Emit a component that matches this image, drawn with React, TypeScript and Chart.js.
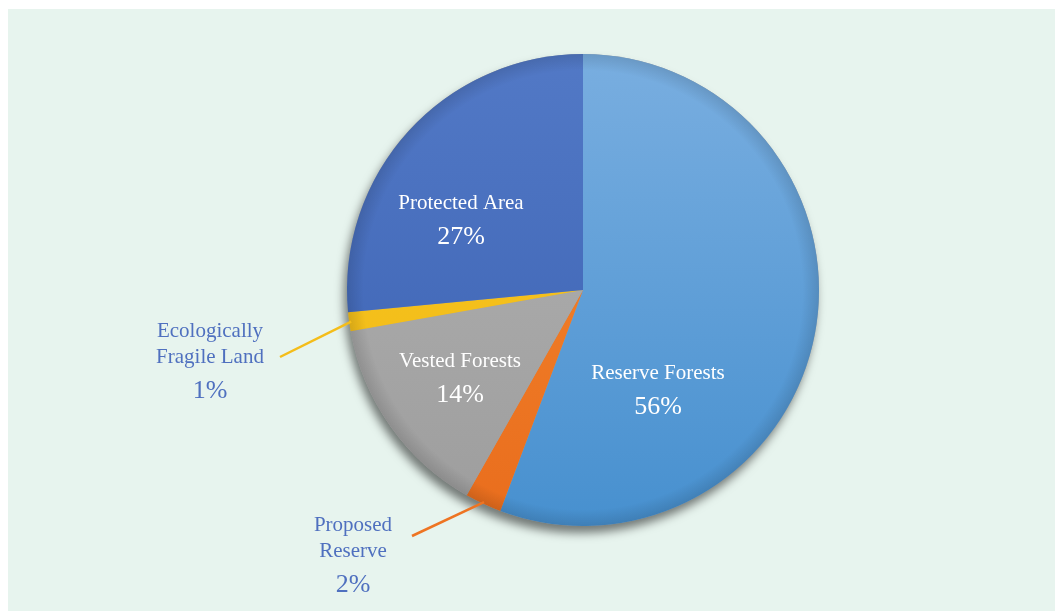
import React, { useEffect, useRef } from "react";
import { Chart, registerables } from "chart.js";

Chart.register(...registerables);

// ---- data ----
const categories = [
  "Reserve Forests",
  "Proposed Reserve",
  "Vested Forests",
  "Ecologically Fragile Land",
  "Protected Area",
];
const shares = [55.7, 2.5, 14.0, 1.3, 26.5];
const percentLabels = ["56%", "2%", "14%", "1%", "27%"];
const nameLines = [
  ["Reserve Forests"],
  ["Proposed", "Reserve"],
  ["Vested Forests"],
  ["Ecologically", "Fragile Land"],
  ["Protected Area"],
];

// ---- styles ----
const sliceColors: [string, string][] = [
  ["#79aee0", "#4790cf"],
  ["#f58a30", "#e96d1d"],
  ["#b3b3b3", "#9d9d9d"],
  ["#f9c824", "#f0b813"],
  ["#5279c6", "#3a60b1"],
];
const leaderColors = ["", "#ee7422", "", "#f4bd1a", ""];

// label anchors relative to pie centre (px): x centre, first baseline; optional leader start
const labelPlacement = [
  { dx: 75, dy: 89, inside: true },
  { dx: -230, dy: 241, inside: false, lx: -171, ly: 246 },
  { dx: -123, dy: 77, inside: true },
  { dx: -373, dy: 47, inside: false, lx: -303, ly: 67 },
  { dx: -122, dy: -81, inside: true },
];

const PIE_RADIUS = 236;
const FONT = '"Liberation Serif", "Times New Roman", serif';

const shadowPlugin = {
  id: "pieShadow",
  beforeDatasetsDraw(chart: any) {
    const arc = chart.getDatasetMeta(0).data[0];
    if (!arc || !isFinite(arc.x)) return;
    const { x, y, outerRadius } = arc;
    const ctx = chart.ctx;
    ctx.save();
    ctx.beginPath();
    ctx.arc(x, y, outerRadius, 0, Math.PI * 2);
    ctx.fillStyle = "#a0a0a0";
    ctx.shadowColor = "rgba(0,0,0,0.5)";
    ctx.shadowBlur = 10;
    ctx.shadowOffsetX = -3;
    ctx.shadowOffsetY = 7;
    ctx.fill();
    ctx.restore();
  },
  afterDatasetsDraw(chart: any) {
    const arc = chart.getDatasetMeta(0).data[0];
    if (!arc || !isFinite(arc.x)) return;
    const { x, y, outerRadius } = arc;
    const ctx = chart.ctx;
    ctx.save();
    const g = ctx.createRadialGradient(x, y, outerRadius * 0.93, x, y, outerRadius);
    g.addColorStop(0, "rgba(0,0,0,0)");
    g.addColorStop(1, "rgba(0,0,0,0.12)");
    ctx.beginPath();
    ctx.arc(x, y, outerRadius, 0, Math.PI * 2);
    ctx.fillStyle = g;
    ctx.fill();
    ctx.restore();
  },
};

const labelPlugin = {
  id: "sliceLabels",
  afterDatasetsDraw(chart: any) {
    const meta = chart.getDatasetMeta(0);
    const ctx = chart.ctx;
    ctx.save();
    meta.data.forEach((arc: any, i: number) => {
      const p = labelPlacement[i];
      const cx = arc.x;
      const cy = arc.y;
      const color = p.inside ? "#ffffff" : "#4f70bf";
      if (!p.inside && p.lx !== undefined) {
        const mid = (arc.startAngle + arc.endAngle) / 2;
        const r = arc.outerRadius - 2;
        ctx.beginPath();
        ctx.moveTo(cx + p.lx, cy + p.ly);
        ctx.lineTo(cx + Math.cos(mid) * r, cy + Math.sin(mid) * r);
        ctx.strokeStyle = leaderColors[i];
        ctx.lineWidth = 2.5;
        ctx.stroke();
      }
      ctx.fillStyle = color;
      ctx.textAlign = "center";
      ctx.textBaseline = "alphabetic";
      ctx.font = `21px ${FONT}`;
      let by = cy + p.dy;
      nameLines[i].forEach((line, k) => {
        if (k > 0) by += 26;
        ctx.fillText(line, cx + p.dx, by);
      });
      ctx.font = `26px ${FONT}`;
      ctx.fillText(percentLabels[i], cx + p.dx, by + 35);
    });
    ctx.restore();
  },
};

export default function App() {
  const canvasRef = useRef<HTMLCanvasElement | null>(null);

  useEffect(() => {
    if (!canvasRef.current) return;
    const chart = new Chart(canvasRef.current, {
      type: "pie",
      data: {
        labels: categories,
        datasets: [
          {
            data: shares,
            borderWidth: 0,
            backgroundColor: (c: any) => {
              const ch = c.chart;
              const area = ch.chartArea;
              const cols = sliceColors[c.dataIndex % sliceColors.length];
              if (!area || !isFinite(area.top) || !isFinite(area.bottom)) return cols[0];
              const cy = (area.top + area.bottom) / 2;
              const g = ch.ctx.createLinearGradient(0, cy - PIE_RADIUS, 0, cy + PIE_RADIUS);
              g.addColorStop(0, cols[0]);
              g.addColorStop(1, cols[1]);
              return g;
            },
          },
        ],
      },
      options: {
        animation: false,
        responsive: true,
        maintainAspectRatio: false,
        radius: PIE_RADIUS,
        layout: { padding: { left: 200, right: 97, top: 20, bottom: 60 } },
        plugins: {
          legend: { display: false },
          tooltip: { enabled: false },
        },
      } as any,
      plugins: [shadowPlugin, labelPlugin],
    });
    return () => chart.destroy();
  }, []);

  return (
    <div
      style={{
        position: "absolute",
        left: 8,
        top: 9,
        width: 1047,
        height: 602,
        background: "#e7f4ee",
      }}
    >
      <canvas ref={canvasRef} />
    </div>
  );
}
